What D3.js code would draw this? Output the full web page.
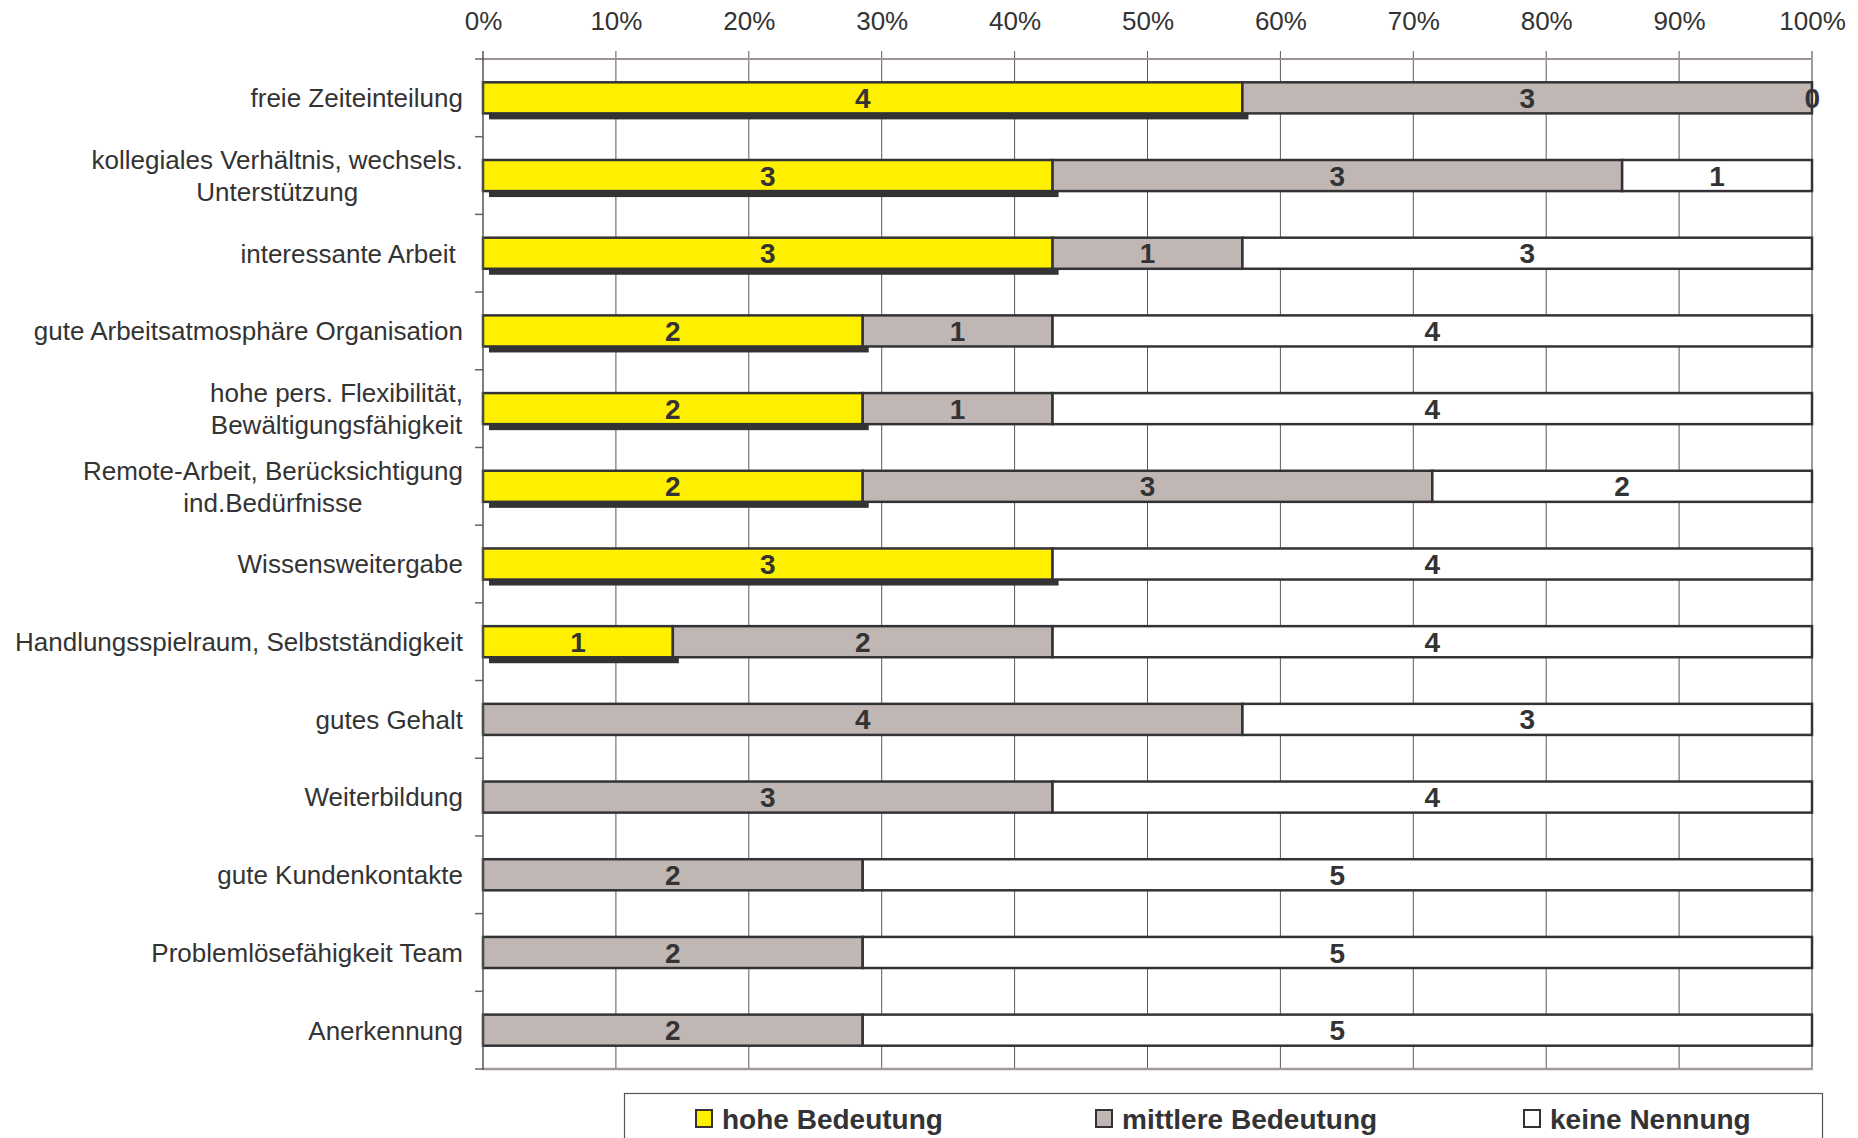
<!DOCTYPE html>
<html><head><meta charset="utf-8">
<script src="https://cdn.jsdelivr.net/npm/d3@7"></script>
<style>
html,body{margin:0;padding:0;background:#fff;}
svg{display:block;font-family:"Liberation Sans",Arial,sans-serif;}
</style></head>
<body>
<svg id="chart" width="1858" height="1138"></svg>
<script>
const categories = [
  "freie Zeiteinteilung",
  "kollegiales Verhältnis, wechsels.\nUnterstützung",
  "interessante Arbeit ",
  "gute Arbeitsatmosphäre Organisation",
  "hohe pers. Flexibilität,\nBewältigungsfähigkeit",
  "Remote-Arbeit, Berücksichtigung\nind.Bedürfnisse",
  "Wissensweitergabe",
  "Handlungsspielraum, Selbstständigkeit",
  "gutes Gehalt",
  "Weiterbildung",
  "gute Kundenkontakte",
  "Problemlösefähigkeit Team",
  "Anerkennung"
];
const hohe     = [4, 3, 3, 2, 2, 2, 3, 1, null, null, null, null, null];
const mittlere = [3, 3, 1, 1, 1, 3, null, 2, 4, 3, 2, 2, 2];
const keine    = [0, 1, 3, 4, 4, 2, 4, 4, 3, 4, 5, 5, 5];
const seriesNames = ["hohe Bedeutung", "mittlere Bedeutung", "keine Nennung"];
const seriesColors = ["#fff000", "#c0b7b4", "#ffffff"];
const tickValues = [0, 0.1, 0.2, 0.3, 0.4, 0.5, 0.6, 0.7, 0.8, 0.9, 1.0];

(function () {
const svg = d3.select("#chart");
const pL = 483, pR = 1812, pT = 59, pB = 1069;

const x = d3.scaleLinear().domain([0, 1]).range([pL, pR]);
const y = d3.scaleBand().domain(categories).range([pT, pB]).paddingInner(0.6).paddingOuter(0.3);
const yb = d3.scaleBand().domain(categories).range([pT, pB]).padding(0);

const allSeries = [hohe, mittlere, keine];
const rows = categories.map((c, i) => {
  const vals = allSeries.map(s => s[i]);
  const total = d3.sum(vals, v => v || 0);
  let acc = 0;
  const segs = vals.map((v, k) => {
    const s = {cat: c, k, v, x0: acc / total, x1: (acc + (v || 0)) / total};
    acc += (v || 0);
    return s;
  });
  return {cat: c, segs};
});

// gridlines
svg.append("g").selectAll("line").data(tickValues.slice(1, -1)).join("line")
  .attr("x1", d => x(d)).attr("x2", d => x(d))
  .attr("y1", pT - 8).attr("y2", pB)
  .attr("stroke", "#5a5a5a").attr("stroke-width", 1);

// top axis labels
const xAxis = d3.axisTop(x).tickValues(tickValues).tickFormat(d3.format(".0%"))
  .tickSize(0).tickPadding(29);
const ax = svg.append("g").attr("transform", `translate(0,${pT})`).call(xAxis);
ax.select(".domain").remove();
ax.selectAll("text").attr("font-size", 26).attr("fill", "#333")
  .attr("font-family", "'Liberation Sans',Arial,sans-serif");

// plot border: top, right, bottom
svg.append("line").attr("x1", pL).attr("x2", pR).attr("y1", pT).attr("y2", pT)
  .attr("stroke", "#9d9290").attr("stroke-width", 2);
svg.append("line").attr("x1", pR).attr("x2", pR).attr("y1", pT - 8).attr("y2", pB + 1)
  .attr("stroke", "#a3989a").attr("stroke-width", 2);
svg.append("line").attr("x1", pL).attr("x2", pR + 1).attr("y1", pB).attr("y2", pB)
  .attr("stroke", "#a3989a").attr("stroke-width", 2.5);

// left axis ticks at band boundaries
svg.append("g").selectAll("line").data(categories).join("line")
  .attr("x1", pL - 8).attr("x2", pL)
  .attr("y1", d => yb(d)).attr("y2", d => yb(d))
  .attr("stroke", "#666").attr("stroke-width", 1.5);
svg.append("line").attr("x1", pL - 8).attr("x2", pL).attr("y1", pB).attr("y2", pB)
  .attr("stroke", "#666").attr("stroke-width", 1.5);

// shadows for hohe Bedeutung
const sh = 6;
svg.append("g").selectAll("rect").data(rows.filter(r => r.segs[0].v)).join("rect")
  .attr("x", r => x(r.segs[0].x0) + sh)
  .attr("y", r => y(r.cat) + sh)
  .attr("width", r => x(r.segs[0].x1) - x(r.segs[0].x0))
  .attr("height", y.bandwidth())
  .attr("fill", "#333336");

// bars
const rg = svg.append("g").selectAll("g").data(rows).join("g");
rg.selectAll("rect").data(r => r.segs.filter(s => s.v !== null && s.v > 0)).join("rect")
  .attr("x", s => x(s.x0))
  .attr("y", s => y(s.cat))
  .attr("width", s => x(s.x1) - x(s.x0))
  .attr("height", y.bandwidth())
  .attr("fill", s => seriesColors[s.k])
  .attr("stroke", "#333336").attr("stroke-width", 2.5);

// value labels
rg.selectAll("text").data(r => r.segs.filter(s => s.v !== null)).join("text")
  .attr("x", s => x((s.x0 + s.x1) / 2))
  .attr("y", s => y(s.cat) + y.bandwidth() / 2)
  .attr("dy", "0.36em")
  .attr("text-anchor", s => s.v === 0 ? "end" : "middle")
  .attr("dx", s => s.v === 0 ? 8 : 0)
  .attr("font-size", 28).attr("font-weight", "bold").attr("fill", "#333336")
  .text(s => s.v);

// left axis line
svg.append("line").attr("x1", pL).attr("x2", pL).attr("y1", pT - 8).attr("y2", pB + 1)
  .attr("stroke", "#555").attr("stroke-width", 1.5);

// category labels
const lg = svg.append("g").selectAll("text").data(categories).join("text")
  .attr("font-size", 26).attr("fill", "#333")
  .style("white-space", "pre");
lg.each(function(c) {
  const lines = c.split("\n");
  const t = d3.select(this);
  const cy = yb(c) + yb.bandwidth() / 2;
  if (lines.length === 1) {
    t.attr("x", 463).attr("y", cy).attr("dy", "0.36em").attr("text-anchor", "end").text(lines[0]);
  } else {
    t.attr("text-anchor", "middle");
    const tmp = svg.append("text").attr("font-size", 26).text(lines[0]);
    const w = tmp.node().getComputedTextLength();
    tmp.remove();
    const mid = 463 - w / 2;
    lines.forEach((ln, j) => {
      t.append("tspan").attr("x", mid).attr("y", cy + (j - (lines.length - 1) / 2) * 32)
        .attr("dy", "0.36em").text(ln);
    });
  }
});

// legend
const legX = [695, 1095, 1523];
svg.append("rect").attr("x", 624.5).attr("y", 1093.5).attr("width", 1198).attr("height", 80)
  .attr("fill", "#fff").attr("stroke", "#555").attr("stroke-width", 1.2);
const leg = svg.append("g").selectAll("g").data(seriesNames).join("g")
  .attr("transform", (d, i) => `translate(${legX[i]},1109)`);
leg.append("rect").attr("x", 1).attr("y", 1).attr("width", 16).attr("height", 17)
  .attr("fill", (d, i) => seriesColors[i]).attr("stroke", "#333336").attr("stroke-width", 2);
leg.append("text").attr("x", 27).attr("y", 20).attr("font-size", 28).attr("font-weight", "bold")
  .attr("fill", "#333336").text(d => d);
})();
</script>
</body></html>
